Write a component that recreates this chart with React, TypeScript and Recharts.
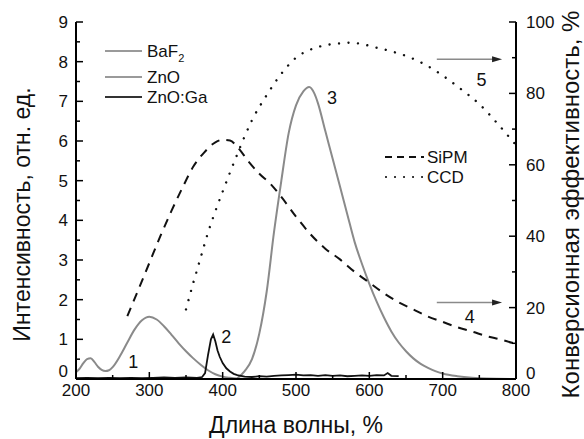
import React from 'react';
import {
  ComposedChart,
  Line,
  XAxis,
  YAxis,
  ReferenceLine,
  ReferenceDot,
  Label,
  Customized,
} from 'recharts';

const FONT = '"Liberation Sans", Arial, Helvetica, sans-serif';

// ---------- ticks ----------
const xMajorTicks = [200, 300, 400, 500, 600, 700, 800];
const xMinorTicks = [250, 350, 450, 550, 650, 750];
const leftMajorTicks = [0, 1, 2, 3, 4, 5, 6, 7, 8, 9];
const leftMinorTicks = [0.5, 1.5, 2.5, 3.5, 4.5, 5.5, 6.5, 7.5, 8.5];
const rightMajorTicks = [0, 20, 40, 60, 80, 100];
const rightMinorTicks = [10, 30, 50, 70, 90];

// ---------- series (left axis, intensity) ----------
const baf2Wavelength = [200, 205, 210, 215, 220, 225, 230, 235, 240, 245, 250, 260, 270, 280, 290, 300, 310, 320, 330, 340, 350, 360, 370, 380, 390, 400, 410, 420, 430];
const baf2Intensity = [0.17, 0.26, 0.4, 0.5, 0.52, 0.43, 0.31, 0.23, 0.2, 0.22, 0.3, 0.58, 0.92, 1.25, 1.48, 1.57, 1.5, 1.33, 1.12, 0.9, 0.7, 0.52, 0.36, 0.22, 0.12, 0.06, 0.03, 0.01, 0];

const znoWavelength = [420, 430, 440, 450, 460, 470, 480, 490, 500, 510, 518, 525, 530, 540, 550, 560, 570, 580, 590, 600, 610, 620, 630, 640, 650, 660, 670, 680, 690, 700, 720, 740, 760, 800];
const znoIntensity = [0.02, 0.2, 0.5, 1.15, 2.2, 3.7, 5.0, 6.2, 6.9, 7.25, 7.36, 7.2, 6.95, 6.25, 5.55, 4.85, 4.15, 3.45, 2.9, 2.4, 1.95, 1.55, 1.2, 0.92, 0.7, 0.52, 0.38, 0.28, 0.2, 0.14, 0.07, 0.03, 0.01, 0];

const znoGaWavelength = [200, 215, 230, 245, 260, 275, 290, 305, 320, 335, 350, 365, 372, 376, 380, 384, 387, 390, 393, 396, 400, 405, 410, 415, 420, 425, 430, 440, 450, 460, 470, 480, 490, 500, 510, 520, 530, 540, 550, 560, 570, 580, 590, 600, 610, 620, 625, 630, 640];
const znoGaIntensity = [0.02, 0.03, 0.02, 0.03, 0.02, 0.03, 0.02, 0.03, 0.04, 0.03, 0.04, 0.03, 0.05, 0.15, 0.6, 1.0, 1.12, 0.95, 0.72, 0.56, 0.4, 0.27, 0.19, 0.13, 0.1, 0.08, 0.06, 0.05, 0.07, 0.06, 0.08, 0.09, 0.1, 0.11, 0.09, 0.1, 0.08, 0.1, 0.08, 0.09, 0.07, 0.08, 0.09, 0.08, 0.1, 0.09, 0.15, 0.08, 0.07];

// ---------- series (right axis, conversion efficiency %) ----------
const sipmWavelength = [270, 285, 300, 315, 330, 345, 360, 375, 390, 400, 410, 420, 435, 450, 465, 480, 500, 520, 540, 560, 580, 600, 620, 640, 660, 680, 700, 720, 740, 760, 780, 800];
const sipmEfficiency = [17.6, 25, 32.5, 40, 47, 53.5, 59.5, 63.5, 66.3, 67, 66.8, 65, 61, 57.5, 54.7, 51, 45.5, 40.5, 36.5, 33.5, 30, 27, 24, 21.5, 19.5, 17.5, 16, 14.5, 13.3, 12, 11, 9.8];

const ccdWavelength = [350, 360, 370, 380, 390, 400, 420, 440, 460, 480, 500, 520, 540, 560, 575, 590, 610, 630, 650, 675, 700, 725, 750, 775, 800];
const ccdEfficiency = [19.5, 27, 34, 41, 47, 52.5, 63, 72.5, 79.5, 85.5, 90, 92.3, 93.5, 94, 94.2, 93.8, 92.8, 91.8, 90.5, 88.2, 85, 81.2, 77, 71.5, 65.5];

// ---------- annotations ----------
const curveNumbers = ['1', '2', '3', '4', '5'];
const curveNumberX = [278, 405, 549, 737, 753];
const curveNumberY = [0.43, 1.07, 7.08, 1.57, 7.54];
const arrowStartX = [692, 692];
const arrowEndX = [781, 781];
const arrowY = [89.6, 21.4];

const toData = (xs: number[], ys: number[]) => xs.map((x, i) => ({ x, v: ys[i] }));
const baf2Data = toData(baf2Wavelength, baf2Intensity);
const znoData = toData(znoWavelength, znoIntensity);
const znoGaData = toData(znoGaWavelength, znoGaIntensity);
const sipmData = toData(sipmWavelength, sipmEfficiency);
const ccdData = toData(ccdWavelength, ccdEfficiency);

const GRAY = '#8a8a8a';
const BLACK = '#111';

const xAllTicks = [...xMajorTicks, ...xMinorTicks].sort((a, b) => a - b);
const leftAllTicks = [...leftMajorTicks, ...leftMinorTicks].sort((a, b) => a - b);
const rightAllTicks = [...rightMajorTicks, ...rightMinorTicks].sort((a, b) => a - b);

const BottomTick = (props: any) => {
  const { x, y, payload } = props;
  const major = xMajorTicks.includes(payload.value);
  return (
    <g>
      <line x1={x} x2={x} y1={y} y2={y - (major ? 7 : 4)} stroke="#000" strokeWidth={1.5} />
      {major && (
        <text x={x} y={y + 17} textAnchor="middle" fontSize={17} fontFamily={FONT} fill="#111">
          {payload.value}
        </text>
      )}
    </g>
  );
};

const TopTick = (props: any) => {
  const { x, y, payload } = props;
  const major = xMajorTicks.includes(payload.value);
  return <line x1={x} x2={x} y1={y} y2={y + (major ? 7 : 4)} stroke="#000" strokeWidth={1.5} />;
};

const LeftTick = (props: any) => {
  const { x, y, payload } = props;
  const major = leftMajorTicks.includes(payload.value);
  const shift = payload.value === 0 ? -8 : 0;
  return (
    <g>
      <line x1={x} x2={x + (major ? 7 : 4)} y1={y} y2={y} stroke="#000" strokeWidth={1.5} />
      {major && (
        <text x={x - 8} y={y + shift} dy="0.35em" textAnchor="end" fontSize={17} fontFamily={FONT} fill="#111">
          {payload.value}
        </text>
      )}
    </g>
  );
};

const RightTick = (props: any) => {
  const { x, y, payload } = props;
  const major = rightMajorTicks.includes(payload.value);
  const shift = payload.value === 0 ? -6 : 0;
  return (
    <g>
      <line x1={x} x2={x - (major ? 7 : 4)} y1={y} y2={y} stroke="#000" strokeWidth={1.5} />
      {major && (
        <text x={x + 10} y={y + shift} dy="0.35em" textAnchor="start" fontSize={17} fontFamily={FONT} fill="#111">
          {payload.value}
        </text>
      )}
    </g>
  );
};

const XTitle = (props: any) => {
  const vb = props.viewBox || {};
  return (
    <text x={vb.x + vb.width / 2} y={vb.y + 54} textAnchor="middle" fontSize={23} fontFamily={FONT} fill="#111">
      Длина волны, %
    </text>
  );
};

const LeftTitle = (props: any) => {
  const vb = props.viewBox || {};
  const cx = vb.x - 4;
  const cy = vb.y + vb.height / 2 + 14;
  return (
    <text x={cx} y={cy} transform={`rotate(-90 ${cx} ${cy})`} textAnchor="middle" dominantBaseline="central" fontSize={23} fontFamily={FONT} fill="#111">
      Интенсивность, отн. ед.
    </text>
  );
};

const RightTitle = (props: any) => {
  const vb = props.viewBox || {};
  const cx = vb.x + 54;
  const cy = vb.y + vb.height / 2 + 4;
  return (
    <text x={cx} y={cy} transform={`rotate(-90 ${cx} ${cy})`} textAnchor="middle" dominantBaseline="central" fontSize={24} fontFamily={FONT} fill="#111">
      Конверсионная эффективность, %
    </text>
  );
};

const ArrowShape = (p: any) => {
  const { x1, y1, x2, y2 } = p;
  return (
    <g>
      <line x1={x1} y1={y1} x2={x2 - 6} y2={y2} stroke="#8a8a8a" strokeWidth={1.5} />
      <polygon points={`${x2},${y2} ${x2 - 10},${y2 - 3} ${x2 - 10},${y2 + 3}`} fill="#222" />
    </g>
  );
};

const numberShape = (label: string) => (p: any) => (
  <text x={p.cx} y={p.cy} textAnchor="middle" dominantBaseline="central" fontSize={18} fontFamily={FONT} fill="#111">
    {label}
  </text>
);

const Legends = () => {
  const t = { fontSize: 17, fontFamily: FONT, fill: '#111' } as const;
  return (
    <g>
      <line x1={105} x2={142} y1={51} y2={51} stroke="#9a9a9a" strokeWidth={2} />
      <text x={147} y={57} {...t}>
        BaF<tspan dy={5} fontSize={11}>2</tspan>
      </text>
      <line x1={105} x2={142} y1={77} y2={77} stroke="#9a9a9a" strokeWidth={2} />
      <text x={147} y={83} {...t}>ZnO</text>
      <line x1={105} x2={142} y1={97} y2={97} stroke="#333" strokeWidth={2} />
      <text x={147} y={103} {...t}>ZnO:Ga</text>

      <line x1={385} x2={424} y1={157} y2={157} stroke="#111" strokeWidth={1.8} strokeDasharray="7 5" />
      <text x={427} y={163} {...t}>SiPM</text>
      <line x1={386} x2={424} y1={177} y2={177} stroke="#111" strokeWidth={2.2} strokeDasharray="0.01 9" strokeLinecap="round" />
      <text x={427} y={183} {...t}>CCD</text>
    </g>
  );
};

export default function App() {
  return (
    <div style={{ position: 'absolute', left: 0, top: 0, background: '#fff' }}>
      <ComposedChart width={584} height={439} margin={{ top: 22, right: 18, bottom: 20, left: 26 }}>
        <XAxis
          xAxisId="x"
          dataKey="x"
          type="number"
          domain={[200, 800]}
          ticks={xAllTicks}
          interval={0}
          height={40}
          tickSize={0}
          tickMargin={0}
          tickLine={false}
          tick={BottomTick}
          axisLine={{ stroke: '#000', strokeWidth: 2 }}
          allowDataOverflow
        >
          <Label content={XTitle} />
        </XAxis>
        <XAxis
          xAxisId="top"
          dataKey="x"
          type="number"
          orientation="top"
          domain={[200, 800]}
          ticks={xAllTicks}
          interval={0}
          height={0}
          tickSize={0}
          tickMargin={0}
          tickLine={false}
          tick={TopTick}
          axisLine={{ stroke: '#000', strokeWidth: 2 }}
          allowDataOverflow
        />
        <YAxis
          yAxisId="left"
          type="number"
          domain={[0, 9]}
          ticks={leftAllTicks}
          interval={0}
          width={50}
          tickSize={0}
          tickMargin={0}
          tickLine={false}
          tick={LeftTick}
          axisLine={{ stroke: '#000', strokeWidth: 2 }}
          allowDataOverflow
        >
          <Label content={LeftTitle} />
        </YAxis>
        <YAxis
          yAxisId="right"
          orientation="right"
          type="number"
          domain={[0, 100]}
          ticks={rightAllTicks}
          interval={0}
          width={50}
          tickSize={0}
          tickMargin={0}
          tickLine={false}
          tick={RightTick}
          axisLine={{ stroke: '#000', strokeWidth: 2 }}
          allowDataOverflow
        >
          <Label content={RightTitle} />
        </YAxis>

        <Line xAxisId="x" yAxisId="left" data={baf2Data} dataKey="v" name="BaF2" type="monotone" stroke={GRAY} strokeWidth={2} dot={false} isAnimationActive={false} />
        <Line xAxisId="x" yAxisId="left" data={znoData} dataKey="v" name="ZnO" type="monotone" stroke={GRAY} strokeWidth={2} dot={false} isAnimationActive={false} />
        <Line xAxisId="x" yAxisId="left" data={znoGaData} dataKey="v" name="ZnO:Ga" type="linear" stroke={BLACK} strokeWidth={1.8} dot={false} isAnimationActive={false} />
        <Line xAxisId="x" yAxisId="right" data={sipmData} dataKey="v" name="SiPM" type="monotone" stroke={BLACK} strokeWidth={2} strokeDasharray="9 7" dot={false} isAnimationActive={false} />
        <Line xAxisId="x" yAxisId="right" data={ccdData} dataKey="v" name="CCD" type="monotone" stroke={BLACK} strokeWidth={2.4} strokeDasharray="0.01 9.5" strokeLinecap="round" dot={false} isAnimationActive={false} />

        {arrowY.map((y, i) => (
          <ReferenceLine
            key={`arrow-${i}`}
            xAxisId="x"
            yAxisId="right"
            segment={[{ x: arrowStartX[i], y }, { x: arrowEndX[i], y }]}
            shape={ArrowShape}
          />
        ))}
        {curveNumbers.map((n, i) => (
          <ReferenceDot
            key={`num-${n}`}
            xAxisId="x"
            yAxisId="left"
            x={curveNumberX[i]}
            y={curveNumberY[i]}
            r={1}
            shape={numberShape(n)}
          />
        ))}
        <Customized component={Legends} />
      </ComposedChart>
    </div>
  );
}
